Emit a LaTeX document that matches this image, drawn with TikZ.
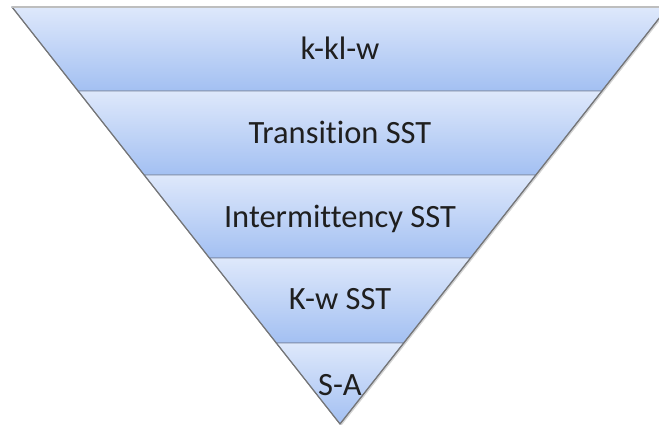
\documentclass[tikz,border=0pt]{standalone}
\usepackage{fontspec}
\setmainfont{Carlito}[Ligatures={NoCommon,NoRare,NoContextual}]
\usetikzlibrary{calc,shadows}
\definecolor{bandtop}{RGB}{222,232,251}
\definecolor{bandbot}{RGB}{163,192,242}
\definecolor{bandline}{RGB}{120,134,160}
\definecolor{rimgray}{RGB}{118,118,118}
\definecolor{topgray}{RGB}{190,190,190}
\tikzstyle{band} = [top color=bandtop, bottom color=bandbot, draw=bandline, line width=0.9]
\tikzstyle{layertext} = [font=\fontsize{32.5}{38}\selectfont, text=black!88, anchor=base]

\begin{document}
\begin{tikzpicture}[x=1pt, y=-1pt]
  \useasboundingbox (0,0) rectangle (659,425);
  \clip (0,0) rectangle (659,425);

  % funnel outline points
  \coordinate (tl) at (12,7);
  \coordinate (tr) at (668,7);
  \coordinate (apex) at (340,424);

  % shadow
  \fill[drop shadow={shadow xshift=1.5pt, shadow yshift=-1.5pt, opacity=0.35}, bandbot]
    (tl) -- (tr) -- (apex) -- cycle;

  % layers
  \foreach \ytop/\ybot/\ybase/\txt [count=\i] in
    {7/91/60/k-kl-w, 91/175/144/Transition SST, 175/258/227/Intermittency SST,
     258/343/309/K-w SST, 343/424/395/S-A} {
    \draw[band]
      ({340-0.78657*(424-\ytop)}, \ytop) -- ({340+0.78657*(424-\ytop)}, \ytop)
      -- ({340+0.78657*(424-\ybot)}, \ybot) -- ({340-0.78657*(424-\ybot)}, \ybot) -- cycle;
    \node[layertext] (layer\i) at (340, \ybase) {\txt};
  }

  % rim
  \draw[rimgray, line width=1.2, line join=round] (tl) -- (apex) -- (tr);
  \draw[topgray, line width=1.6] (tl) -- (tr);
\end{tikzpicture}
\end{document}
